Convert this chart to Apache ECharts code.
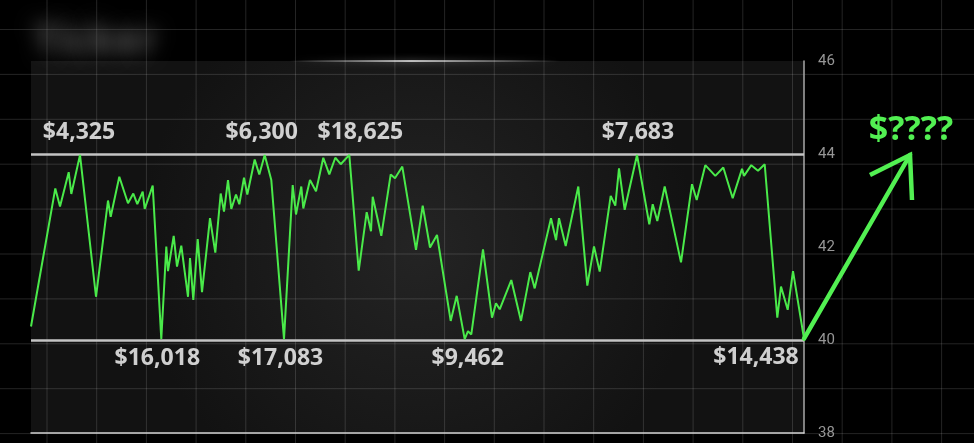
<!DOCTYPE html>
<html><head><meta charset="utf-8">
<script src="https://cdn.jsdelivr.net/npm/echarts@6/dist/echarts.min.js"></script>
<style>html,body{margin:0;padding:0;background:#000;}#c{width:974px;height:443px;}</style>
</head><body><div id="c"></div>
<script>
// ---- data ----
const dayIndex = [0,24.3,29,37.7,40.3,49,65,77,79.7,88.3,97,102.3,106.3,111.7,113.7,121.7,130.3,135.3,137,142.7,146,150.3,157,159,162.3,166.7,171,179,184.3,189.7,193,197,200.3,205,208.3,213,216.3,223.7,228.3,233.7,240.3,253,261.7,265,270.3,272.3,279,285,292.3,298.3,304.3,309.7,318.3,327.7,335.7,340,341.7,350.3,359.7,364,371.3,385,391.7,399,406,419.7,425.7,433.7,437,440.3,452,461,465,468.7,480.3,490,499.3,503.7,520,525,528,534.7,547.3,556.3,563,568.7,579.7,584.3,588,593.7,606,618.3,621.7,626.3,633.7,650,661,665.7,674.3,684.3,692.3,701.7,711,713,720.3,727,733.7,746.3,750,756.7,762,773];
const priceValues = [40.29,43.26,42.87,43.61,43.14,43.98,40.93,43.0,42.65,43.51,42.94,43.15,42.92,43.19,42.82,43.32,40.02,42.01,41.48,42.24,41.58,42.03,40.93,41.76,40.86,42.17,41.03,42.62,41.88,43.15,42.76,43.44,42.82,43.13,42.92,43.49,43.13,43.88,43.56,43.98,43.44,40.02,43.33,42.70,43.30,42.83,43.44,43.20,43.92,43.56,43.92,43.78,43.98,41.49,42.75,42.34,43.08,42.24,43.56,43.48,43.73,41.94,42.89,41.99,42.26,40.41,40.95,40.02,40.19,40.12,41.95,40.48,40.79,40.66,41.29,40.41,41.46,41.11,42.62,42.15,42.62,42.02,43.30,41.17,42.01,41.47,43.10,42.89,43.69,42.80,43.98,42.49,42.92,42.56,43.30,41.67,43.35,43.01,43.76,43.53,43.71,43.05,43.68,43.53,43.76,43.64,43.78,40.48,41.15,40.65,41.48,40.03];
const yTicks = [38, 40, 42, 44, 46];
const levelValues = [40, 44];
const annotIndex = [5, 39, 52, 90, 16, 41, 67, 111];
const annotText = ['$4,325', '$6,300', '$18,625', '$7,683', '$16,018', '$17,083', '$9,462', '$14,438'];
const titleText = 'Ticker';
const targetText = '$????';

// ---- styling / layout ----
const W = 974, H = 443;
const G = {left: 31, right: 170, top: 61, bottom: 10};
const labelShift = [[-1,-22],[-3,-22],[11,-22],[1,-22],[-4,19],[-3.5,19],[3,19],[-48,19]];
const GREEN = '#4aea4a';

const chart = echarts.init(document.getElementById('c'), null, {renderer: 'canvas'});
const lineData = dayIndex.map((x, i) => [x, priceValues[i]]);
const annotData = annotIndex.map((idx, k) => ({
  value: [dayIndex[idx], priceValues[idx]],
  label: {formatter: annotText[k], offset: labelShift[k]}
}));

chart.setOption({
  animation: false,
  backgroundColor: '#000',
  grid: G,
  xAxis: {
    type: 'value', min: 0, max: 773,
    axisLine: {show: true, onZero: false, lineStyle: {color: '#d2d2d2', width: 1.5}},
    axisTick: {show: false}, axisLabel: {show: false}, splitLine: {show: false}
  },
  yAxis: {
    type: 'value', position: 'right', min: yTicks[0], max: yTicks[yTicks.length - 1], interval: 2,
    axisLine: {show: true, onZero: false, lineStyle: {color: '#a8a8a8', width: 1.5}},
    axisTick: {show: false}, splitLine: {show: false},
    axisLabel: {color: '#969696', fontSize: 15, fontFamily: 'Roboto', margin: 14, verticalAlign: 'middle'}
  },
  series: [{
    type: 'line', data: lineData, showSymbol: false, z: 5,
    lineStyle: {color: GREEN, width: 2},
    markLine: {
      silent: true, symbol: ['none', 'none'], label: {show: false},
      lineStyle: {color: '#c4c4c4', width: 2.5, type: 'solid'},
      data: levelValues.map(v => ({yAxis: v}))
    }
  }, {
    type: 'scatter', data: annotData, symbolSize: 1, z: 6,
    itemStyle: {color: 'rgba(0,0,0,0)'},
    label: {show: true, position: 'inside', color: '#ffffff', fontSize: 23, fontWeight: 'bold', fontFamily: 'Open Sans'}
  }]
});

// decorations
const gfx = [];
gfx.push({type: 'rect', z: -10, silent: true,
  shape: {x: G.left, y: G.top, width: W - G.left - G.right, height: H - G.top - G.bottom},
  style: {fill: new echarts.graphic.RadialGradient(0.5, 0.5, 0.75, [
    {offset: 0, color: '#242424'}, {offset: 1, color: '#121212'}])}});
for (let x = 47; x < W; x += 49.7) {
  gfx.push({type: 'line', z: -5, silent: true, shape: {x1: x, y1: 0, x2: x, y2: H},
    style: {stroke: 'rgba(255,255,255,0.14)', lineWidth: 1}});
}
for (let y = 29.5; y < H; y += 44.9) {
  gfx.push({type: 'line', z: -5, silent: true, shape: {x1: 0, y1: y, x2: W, y2: y},
    style: {stroke: 'rgba(255,255,255,0.14)', lineWidth: 1}});
}
// glow streak along the top
gfx.push({type: 'rect', z: -4, silent: true, shape: {x: 290, y: 60, width: 270, height: 2},
  style: {fill: new echarts.graphic.LinearGradient(0, 0, 1, 0, [
    {offset: 0, color: 'rgba(255,255,255,0)'}, {offset: 0.45, color: 'rgba(255,255,255,0.7)'},
    {offset: 1, color: 'rgba(255,255,255,0)'}]), shadowBlur: 6, shadowColor: 'rgba(255,255,255,0.6)'}});
// blurred title (drawn as shadow only)
gfx.push({type: 'text', z: -4, silent: true, x: 34 - 3000, y: 42,
  style: {text: titleText, fill: '#ffffff', font: 'bold 40px "Open Sans"', verticalAlign: 'middle',
    textShadowColor: 'rgba(100,100,100,1)', textShadowBlur: 19, textShadowOffsetX: 3000, textShadowOffsetY: 0}});

const last = lineData[lineData.length - 1];
const p0 = chart.convertToPixel({seriesIndex: 0}, last);
const tipY = chart.convertToPixel({yAxisIndex: 0}, levelValues[1]) + 1;
const tip = [p0[0] + 106, tipY];
gfx.push({type: 'polyline', z: 10, silent: true, shape: {points: [p0, tip]},
  style: {stroke: '#52f052', lineWidth: 4.5, lineCap: 'round'}});
gfx.push({type: 'polyline', z: 10, silent: true,
  shape: {points: [[tip[0] - 40, tip[1] + 20], tip, [tip[0] + 2, tip[1] + 45]]},
  style: {stroke: '#52f052', lineWidth: 4.5, lineCap: 'butt', lineJoin: 'miter', fill: null}});
gfx.push({type: 'text', z: 10, silent: true, x: tip[0] + 1, y: tip[1] - 25,
  style: {text: targetText, fill: '#52f052', font: 'bold 34px "Open Sans"', align: 'center', verticalAlign: 'middle'}});

chart.setOption({graphic: {elements: gfx}});
</script>
</body></html>
